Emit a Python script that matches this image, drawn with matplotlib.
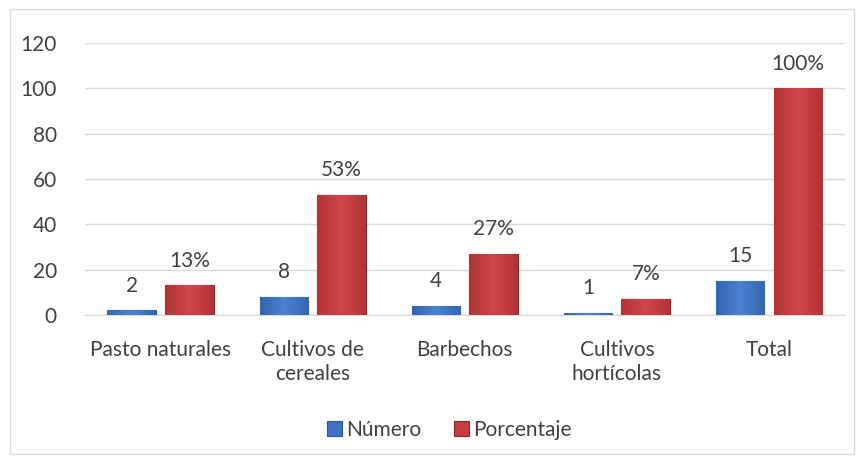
import matplotlib.pyplot as plt
import matplotlib.colors as mcolors
import numpy as np

# データ
categories = ['Pasto naturales', 'Cultivos de\ncereales', 'Barbechos', 'Cultivos\nhortícolas', 'Total']
numero = [2, 8, 4, 1, 15]
porcentaje = [13, 53, 27, 7, 100]
numero_labels = ['2', '8', '4', '1', '15']
porcentaje_labels = ['13%', '53%', '27%', '7%', '100%']

plt.rcParams['font.family'] = ['Lato', 'DejaVu Sans']

fig = plt.figure(figsize=(8.64, 4.59), dpi=100)
ax = fig.add_axes([0.098, 0.314, 0.88, 0.592])

x = np.arange(len(categories))
w = 0.32
off = 0.19

b1 = ax.bar(x - off, numero, w, color='#3F74C2', edgecolor='#2A5597', linewidth=0.8, label='Número', zorder=3)
b2 = ax.bar(x + off, porcentaje, w, color='#C53D3E', edgecolor='#8E2527', linewidth=0.8, label='Porcentaje', zorder=3)

# 簡易的なグラデーション（立体感）
def shade(bars, light, dark):
    cmap = mcolors.LinearSegmentedColormap.from_list('g', [dark, light, dark])
    grad = np.linspace(0, 1, 64).reshape(1, -1)
    for r in bars:
        im = ax.imshow(grad, cmap=cmap, aspect='auto', zorder=3.5,
                       extent=[r.get_x(), r.get_x() + r.get_width(), 0, r.get_height()])
        im.set_clip_path(r)

shade(b1, '#4A82D2', '#3466B0')
shade(b2, '#D0484A', '#B23335')

# 値ラベル
for rect, lab in zip(b1, numero_labels):
    ax.text(rect.get_x() + rect.get_width() / 2, rect.get_height() + 6.5, lab,
            ha='center', va='bottom', fontsize=15, color='#404040')
for rect, lab in zip(b2, porcentaje_labels):
    ax.text(rect.get_x() + rect.get_width() / 2, rect.get_height() + 6.5, lab,
            ha='center', va='bottom', fontsize=15, color='#404040')

ax.set_xlim(-0.5, len(categories) - 0.5)
ax.set_ylim(0, 120)
ax.set_yticks(range(0, 121, 20))
ax.set_xticks(x)
ax.set_xticklabels(categories, fontsize=15, color='#404040', linespacing=1.25)
ax.tick_params(axis='y', labelsize=15, labelcolor='#404040', length=0, pad=20)
ax.tick_params(axis='x', length=0, pad=18)

ax.grid(axis='y', color='#D9D9D9', linewidth=1, zorder=0)
for s in ['top', 'right', 'left']:
    ax.spines[s].set_visible(False)
ax.spines['bottom'].set_color('#D9D9D9')

fig.legend(handles=[b1, b2], loc='center', bbox_to_anchor=(0.52, 0.063), ncol=2,
           frameon=False, fontsize=15, handlelength=0.7, handleheight=0.7,
           handletextpad=0.2, columnspacing=1.6, labelcolor='#404040')

# 枠線
border = plt.Rectangle((0.012, 0.01), 0.976, 0.97, transform=fig.transFigure,
                       fill=False, edgecolor='#D9D9D9', linewidth=1)
fig.patches.append(border)

fig.savefig('out.png', dpi=100)
